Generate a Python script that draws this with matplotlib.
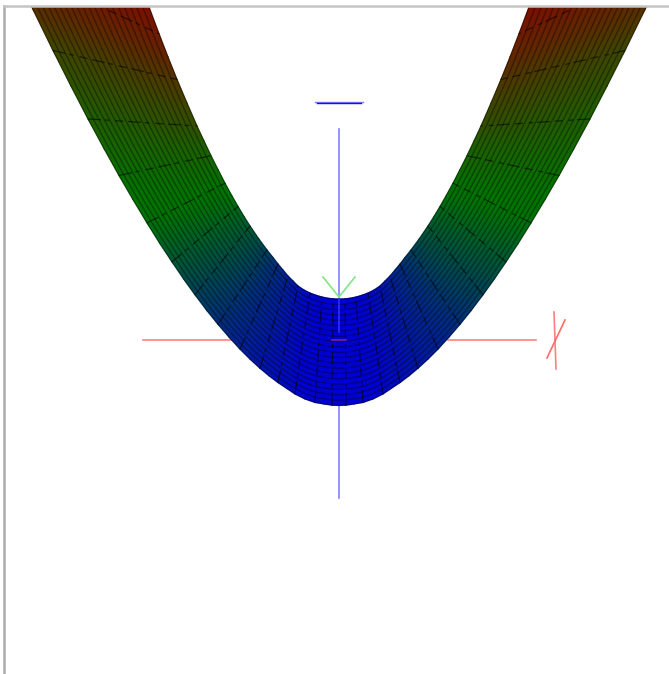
import numpy as np
import matplotlib.pyplot as plt
from matplotlib.colors import LinearSegmentedColormap

# Half of the surface in image pixels (the other half mirrors it)
# distance from the centre line, bottom of the bowl outwards
outer_d = [0, 7, 15, 24, 34, 44, 52, 61, 70, 79, 89, 99, 110, 121, 132, 144, 155, 167, 179, 192,
           206, 220, 235, 251, 268, 286, 306, 327, 340, 354]
outer_y = [405.5, 405.2, 404, 402.5, 399, 394, 388.6, 382.6, 375.8, 368.3, 359.1, 349.1, 337.1,
           324.3, 310.7, 294.8, 279.5, 261.9, 243.7, 222.9, 199.6, 175.5, 148.5, 118.9, 86.1,
           50.5, 9.5, -34.5, -63.1, -93.5]
inner_d = [0, 6, 11, 17, 23, 29, 35, 41, 46, 51, 56, 61, 66, 72, 80, 89, 95, 101, 107, 114,
           121, 128, 135, 142, 152, 162, 171, 180, 190, 199]
inner_y = [299, 298.8, 298.2, 297, 295.2, 293, 290, 286, 281, 276, 270, 264, 257.5, 250, 239.2,
           226, 216.5, 206.5, 196, 183.2, 169.6, 155.7, 141, 126, 103.1, 79.4, 57, 33.7, 7, -17.9]

# Colour level along both edges (0 blue, 0.5 green, 1 red)
outer_level = [0, 0, 0, 0.005, 0.01, 0.025, 0.05, 0.065, 0.085, 0.105, 0.13, 0.155, 0.185, 0.225, 0.265,
               0.3, 0.34, 0.385, 0.43, 0.48, 0.51, 0.54, 0.58, 0.62, 0.68, 0.74, 0.84, 0.92, 0.96, 1.0]
inner_level = [0, 0, 0.005, 0.01, 0.025, 0.04, 0.06, 0.09, 0.125, 0.16, 0.195, 0.225, 0.26, 0.3, 0.345,
               0.395, 0.42, 0.45, 0.48, 0.52, 0.56, 0.6, 0.64, 0.7, 0.76, 0.82, 0.88, 0.93, 0.98, 1.02]

# Cross sections that show as dark lines, as indices into the half tables
cross_sections = [1, 3, 5, 7, 9, 11, 13, 15, 17, 19, 21, 23, 25, 27, 29]

# Axis lines
blue_axis_x = [339, 339]
blue_axis_top = [129, 299]
blue_axis_bottom = [405, 498]
red_axis_y = [340, 340]
red_axis_left = [143, 232]
red_axis_right = [448, 536]
green_left_x = [339, 323]
green_right_x = [339, 355]
green_y = [297, 277]

center_x = 339
n_strips = 20


def mirrored(half, sign=0):
    '''Join a half table with its mirror image, left end first.'''
    half = np.array(half, dtype=float)
    if sign == 0:
        return np.concatenate([half[:0:-1], half])
    return center_x + np.concatenate([-half[:0:-1], half])


outer_xs = mirrored(outer_d, 1)
outer_ys = mirrored(outer_y)
inner_xs = mirrored(inner_d, 1)
inner_ys = mirrored(inner_y)
outer_cs = mirrored(outer_level)
inner_cs = mirrored(inner_level)

frac = np.linspace(0, 1, n_strips + 1)[:, None]
X = outer_xs + frac * (inner_xs - outer_xs)
Y = outer_ys + frac * (inner_ys - outer_ys)
C = outer_cs + frac * (inner_cs - outer_cs)

cmap = LinearSegmentedColormap.from_list('height', [
    (0.0, (0, 0, 210 / 255)),
    (0.25, (0, 52 / 255, 112 / 255)),
    (0.5, (0, 118 / 255, 0)),
    (0.75, (62 / 255, 70 / 255, 0)),
    (1.0, (130 / 255, 10 / 255, 0)),
])

fig = plt.figure(figsize=(6.69, 6.74), dpi=100)
ax = fig.add_axes([4.3 / 669, 0, 1 - 4.3 / 669, 1 - 6 / 674])
ax.set_xlim(4.3, 669)
ax.set_ylim(674, 6)
ax.set_xticks([])
ax.set_yticks([])

axis_blue = '#8080ff'
axis_red = '#ff8080'
axis_green = '#80e880'

ax.plot(blue_axis_x, blue_axis_top, color=axis_blue, lw=1.2, zorder=1)
ax.plot(blue_axis_x, blue_axis_bottom, color=axis_blue, lw=1.2, zorder=1)
ax.plot(red_axis_left, red_axis_y, color=axis_red, lw=1.2, zorder=1)
ax.plot(red_axis_right, red_axis_y, color=axis_red, lw=1.2, zorder=1)
ax.plot(green_left_x, green_y, color=axis_green, lw=1.2, zorder=1)
ax.plot(green_right_x, green_y, color=axis_green, lw=1.2, zorder=1)

ax.pcolormesh(X, Y, C, cmap=cmap, vmin=0, vmax=1, shading='gouraud', zorder=2)

# Lines that run along the surface
for row in range(n_strips + 1):
    ax.plot(X[row], Y[row], color='black', lw=0.95, alpha=0.38, zorder=3)

# Cross sections, broken up as in the picture
mid = len(outer_d) - 1
for i in cross_sections:
    for col in (mid - i, mid + i):
        ax.plot(X[:, col], Y[:, col], color='black', lw=0.85, alpha=0.6, zorder=3,
                dashes=(11, 3, 4, 5, 7, 4))

# Bits of the axes that show through the surface
ax.plot([339, 339], [299, 332], color='#3a3aff', lw=1.2, alpha=0.8, zorder=4)
ax.plot([332, 346], [340, 340], color='#b03060', lw=1.2, alpha=0.7, zorder=4)

# Axis letters, reduced to strokes
ax.plot([315, 363], [102, 102], color=axis_blue, lw=1.0, zorder=4)
ax.plot([317, 361], [103, 103], color='#1010f0', lw=1.0, zorder=4)
ax.plot([554, 556], [312, 369], color=axis_red, lw=1.2, zorder=4)
ax.plot([565, 547], [320, 358], color='#ff6a6a', lw=1.2, zorder=4)

for side in ['right', 'bottom']:
    ax.spines[side].set_visible(False)
ax.spines['left'].set_color('#ababab')
ax.spines['left'].set_linewidth(1.8)
ax.spines['left'].set_zorder(6)
ax.spines['top'].set_color('#c4c4c4')
ax.spines['top'].set_linewidth(1.8)
ax.spines['top'].set_zorder(6)

fig.savefig('out.png', dpi=100)
